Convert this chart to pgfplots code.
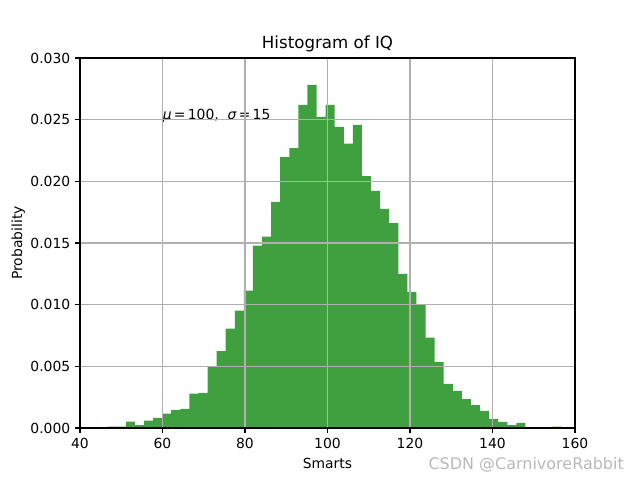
\documentclass[border=0pt]{standalone}
\usepackage{pgfplots}
\pgfplotsset{compat=1.18}
\usepackage{fontspec}
\setmainfont{DejaVu Sans}
\definecolor{histgreen}{RGB}{64,160,64}
\definecolor{gridgray}{RGB}{176,176,176}
\begin{document}
\begin{tikzpicture}
\begin{axis}[
  scale only axis, width=356.4pt, height=266.4pt,
  xmin=40, xmax=160, ymin=0, ymax=0.03,
  xtick={40,60,80,100,120,140,160},
  ytick={0,0.005,0.01,0.015,0.02,0.025,0.03},
  yticklabel style={/pgf/number format/.cd, fixed, fixed zerofill, precision=3},
  scaled y ticks=false,
  /pgf/number format/assume math mode=true,
  tick label style={font=\fontsize{10}{12}\selectfont},
  label style={font=\fontsize{10}{12}\selectfont},
  title style={font=\fontsize{12}{14}\selectfont, yshift=-5pt},
  title={Histogram of IQ},
  xlabel={Smarts}, ylabel={Probability},
  ylabel shift=-3pt,
  grid=major, major grid style={gridgray, line width=0.75pt},
  axis on top,
  tick align=outside, major tick length=3.5pt,
  tick style={black, line width=0.8pt},
  axis line style={line width=0.8pt},
  xtick pos=left, ytick pos=left,
]
\addplot[ybar interval, fill=histgreen, draw=none] coordinates {
(46.70,0.00012) (48.90,0.00012) (51.10,0.00051) (53.31,0.00024) (55.51,0.00059)
(57.71,0.00081) (59.91,0.00116) (62.11,0.00146) (64.32,0.00154) (66.52,0.00278)
(68.72,0.00284) (70.92,0.00500) (73.12,0.00624) (75.33,0.00805) (77.53,0.00951)
(79.73,0.01113) (81.93,0.01478) (84.13,0.01551) (86.34,0.01833) (88.54,0.02197)
(90.74,0.02270) (92.94,0.02619) (95.14,0.02781) (97.35,0.02522) (99.55,0.02619)
(101.75,0.02441) (103.95,0.02306) (106.15,0.02457) (108.36,0.02043) (110.56,0.01922)
(112.76,0.01776) (114.96,0.01662) (117.16,0.01249) (119.37,0.01103) (121.57,0.00997)
(123.77,0.00732) (125.97,0.00535) (128.17,0.00357) (130.38,0.00300) (132.58,0.00235)
(134.78,0.00186) (136.98,0.00138) (139.18,0.00073) (141.39,0.00049) (143.59,0.00024)
(145.79,0.00041) (147.99,0) (150.19,0) (152.40,0) (154.60,0.00012)
(156.80,0)
};
\node[anchor=base west, font=\fontsize{10}{12}\selectfont, inner sep=0pt] at (axis cs:60,0.025) {{\itshape μ}\,=\,100,\ \ {\itshape σ}\,=\,15};
\end{axis}
\node[anchor=base east, text=gray!55, font=\fontsize{11.5}{13}\selectfont, inner sep=0pt] at ([xshift=35.3pt,yshift=-30.2pt]current axis.south east) {CSDN @CarnivoreRabbit};
\path ([xshift=-57.6pt,yshift=-37.44pt]current axis.south west) rectangle ([xshift=46.8pt,yshift=41.76pt]current axis.north east);
\end{tikzpicture}
\end{document}
